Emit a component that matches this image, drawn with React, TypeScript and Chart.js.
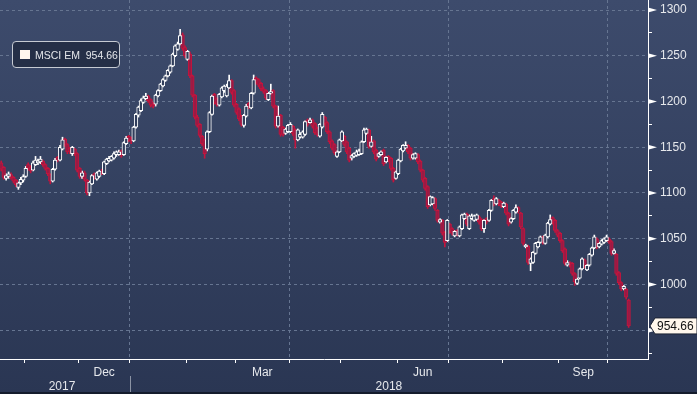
import React, { useEffect, useRef } from "react";
import { Chart, registerables } from "chart.js";

Chart.register(...registerables);

const seriesName = "MSCI EM";
const lastValue = 954.66;

// one candle per trading day, 18 Oct 2017 .. 11 Oct 2018
const opens = [
  1133, 1128, 1116, 1118, 1120, 1117, 1114, 1106, 1111, 1114,
  1118, 1131, 1128, 1125, 1131, 1133, 1134, 1135, 1131, 1127,
  1120, 1113, 1126, 1139, 1136, 1148, 1159, 1153, 1149, 1143,
  1148, 1143, 1127, 1118, 1122, 1114, 1100, 1110, 1121, 1115,
  1118, 1124, 1121, 1132, 1135, 1136, 1138, 1142, 1142, 1146,
  1142, 1154, 1162, 1159, 1157, 1172, 1185, 1190, 1199, 1203,
  1206, 1202, 1197, 1197, 1206, 1212, 1217, 1223, 1228, 1232,
  1239, 1250, 1257, 1263, 1273, 1259, 1246, 1252, 1228, 1207,
  1183, 1175, 1162, 1158, 1148, 1167, 1186, 1208, 1203, 1196,
  1205, 1212, 1206, 1215, 1223, 1212, 1197, 1192, 1184, 1174,
  1184, 1198, 1193, 1209, 1226, 1224, 1220, 1214, 1212, 1202,
  1209, 1212, 1195, 1173, 1185, 1172, 1165, 1167, 1167, 1173,
  1169, 1158, 1161, 1161, 1164, 1180, 1177, 1180, 1176, 1171,
  1162, 1172, 1183, 1177, 1167, 1157, 1153, 1140, 1145, 1157,
  1162, 1156, 1149, 1138, 1140, 1141, 1142, 1143, 1156, 1165,
  1169, 1151, 1157, 1147, 1140, 1142, 1147, 1134, 1140, 1138,
  1127, 1116, 1121, 1135, 1146, 1149, 1152, 1149, 1138, 1138,
  1142, 1135, 1125, 1116, 1107, 1087, 1088, 1094, 1081, 1068,
  1070, 1057, 1048, 1066, 1061, 1053, 1059, 1053, 1061, 1072,
  1077, 1061, 1072, 1070, 1071, 1074, 1071, 1061, 1072, 1070,
  1081, 1094, 1088, 1092, 1090, 1085, 1088, 1078, 1068, 1072,
  1079, 1084, 1078, 1061, 1041, 1042, 1023, 1024, 1034, 1041,
  1046, 1052, 1045, 1052, 1066, 1073, 1070, 1059, 1056, 1048,
  1039, 1021, 1024, 1023, 1012, 1001, 1007, 1017, 1027, 1016,
  1021, 1032, 1040, 1050, 1041, 1044, 1046, 1048, 1050, 1047,
  1034, 1033, 1013, 1002, 995, 995, 983,
];

const highs = [
  1135, 1129, 1121, 1123, 1122, 1118, 1115, 1112, 1117, 1120,
  1129, 1133, 1130, 1135, 1140, 1137, 1140, 1136, 1132, 1128,
  1121, 1127, 1138, 1140, 1152, 1161, 1160, 1154, 1150, 1151,
  1149, 1144, 1128, 1124, 1124, 1115, 1113, 1120, 1122, 1123,
  1125, 1126, 1135, 1138, 1140, 1141, 1145, 1146, 1147, 1147,
  1156, 1162, 1163, 1161, 1173, 1187, 1195, 1203, 1206, 1209,
  1207, 1203, 1199, 1208, 1213, 1220, 1225, 1229, 1235, 1240,
  1253, 1262, 1265, 1279, 1275, 1261, 1256, 1254, 1229, 1208,
  1185, 1176, 1163, 1159, 1168, 1189, 1207, 1209, 1204, 1209,
  1216, 1218, 1219, 1229, 1224, 1213, 1198, 1193, 1185, 1186,
  1197, 1199, 1210, 1229, 1227, 1225, 1221, 1216, 1213, 1210,
  1219, 1213, 1196, 1195, 1186, 1173, 1171, 1175, 1177, 1174,
  1170, 1170, 1166, 1168, 1179, 1181, 1182, 1181, 1177, 1172,
  1176, 1188, 1184, 1178, 1168, 1158, 1154, 1146, 1159, 1168,
  1163, 1157, 1150, 1142, 1144, 1147, 1148, 1157, 1171, 1171,
  1170, 1162, 1158, 1148, 1144, 1146, 1148, 1140, 1141, 1139,
  1128, 1124, 1137, 1149, 1153, 1156, 1153, 1150, 1143, 1144,
  1143, 1136, 1126, 1117, 1108, 1097, 1096, 1095, 1082, 1072,
  1071, 1058, 1071, 1067, 1062, 1059, 1060, 1064, 1077, 1078,
  1078, 1076, 1077, 1076, 1077, 1075, 1072, 1071, 1073, 1082,
  1093, 1097, 1095, 1093, 1091, 1090, 1089, 1079, 1073, 1082,
  1087, 1085, 1079, 1062, 1044, 1043, 1029, 1036, 1046, 1047,
  1053, 1053, 1055, 1068, 1076, 1074, 1071, 1060, 1057, 1049,
  1040, 1026, 1025, 1024, 1013, 1007, 1018, 1029, 1028, 1022,
  1034, 1041, 1054, 1051, 1046, 1049, 1051, 1054, 1051, 1048,
  1039, 1034, 1014, 1003, 999, 996, 984,
];

const lows = [
  1124, 1115, 1114, 1116, 1115, 1111, 1107, 1104, 1109, 1112,
  1117, 1125, 1122, 1124, 1130, 1131, 1132, 1129, 1125, 1119,
  1110, 1112, 1125, 1134, 1135, 1147, 1151, 1143, 1143, 1141,
  1141, 1123, 1116, 1116, 1113, 1098, 1097, 1109, 1115, 1114,
  1117, 1120, 1120, 1131, 1134, 1135, 1137, 1140, 1141, 1139,
  1141, 1153, 1156, 1154, 1156, 1171, 1183, 1189, 1198, 1202,
  1199, 1194, 1193, 1195, 1205, 1211, 1216, 1222, 1227, 1231,
  1238, 1249, 1256, 1262, 1256, 1248, 1245, 1226, 1205, 1181,
  1172, 1161, 1152, 1138, 1146, 1166, 1185, 1197, 1195, 1195,
  1204, 1210, 1205, 1214, 1208, 1194, 1186, 1179, 1173, 1172,
  1183, 1192, 1192, 1208, 1219, 1216, 1212, 1209, 1202, 1201,
  1208, 1193, 1171, 1172, 1162, 1162, 1164, 1166, 1166, 1163,
  1149, 1157, 1160, 1160, 1163, 1173, 1176, 1171, 1164, 1162,
  1161, 1171, 1174, 1165, 1154, 1147, 1142, 1139, 1144, 1156,
  1151, 1143, 1134, 1136, 1139, 1140, 1141, 1142, 1155, 1164,
  1149, 1150, 1143, 1135, 1139, 1141, 1130, 1133, 1134, 1125,
  1112, 1115, 1120, 1134, 1145, 1148, 1143, 1136, 1137, 1137,
  1132, 1123, 1112, 1103, 1083, 1086, 1087, 1081, 1068, 1067,
  1054, 1041, 1047, 1056, 1054, 1052, 1053, 1052, 1060, 1071,
  1064, 1060, 1071, 1069, 1070, 1066, 1059, 1057, 1066, 1069,
  1080, 1086, 1087, 1086, 1084, 1084, 1076, 1064, 1067, 1071,
  1078, 1078, 1061, 1043, 1040, 1022, 1015, 1023, 1033, 1040,
  1045, 1044, 1044, 1051, 1065, 1066, 1057, 1052, 1046, 1035,
  1021, 1020, 1019, 1010, 999, 1000, 1006, 1016, 1018, 1015,
  1020, 1031, 1039, 1039, 1040, 1043, 1045, 1047, 1045, 1032,
  1033, 1010, 1000, 993, 994, 984, 953,
];

const closes = [
  1126, 1117, 1119, 1121, 1117, 1113, 1109, 1111, 1115, 1118,
  1127, 1127, 1124, 1133, 1136, 1135, 1137, 1131, 1127, 1121,
  1113, 1126, 1136, 1136, 1150, 1158, 1153, 1145, 1145, 1150,
  1143, 1125, 1118, 1122, 1115, 1100, 1112, 1119, 1117, 1122,
  1124, 1122, 1134, 1137, 1138, 1140, 1143, 1145, 1145, 1141,
  1155, 1160, 1158, 1157, 1172, 1186, 1194, 1201, 1204, 1206,
  1201, 1196, 1195, 1207, 1212, 1219, 1224, 1228, 1234, 1239,
  1252, 1261, 1263, 1272, 1258, 1250, 1255, 1228, 1207, 1183,
  1174, 1163, 1154, 1143, 1167, 1188, 1206, 1199, 1197, 1208,
  1215, 1217, 1217, 1223, 1210, 1196, 1188, 1181, 1175, 1185,
  1195, 1194, 1209, 1224, 1221, 1218, 1214, 1211, 1204, 1209,
  1211, 1195, 1173, 1184, 1164, 1164, 1170, 1174, 1175, 1165,
  1158, 1169, 1164, 1167, 1178, 1175, 1180, 1173, 1166, 1164,
  1175, 1186, 1176, 1167, 1156, 1149, 1144, 1145, 1158, 1167,
  1153, 1145, 1136, 1141, 1143, 1145, 1146, 1156, 1169, 1170,
  1151, 1156, 1145, 1137, 1143, 1145, 1132, 1139, 1136, 1127,
  1114, 1123, 1136, 1148, 1152, 1152, 1145, 1138, 1142, 1143,
  1134, 1125, 1114, 1105, 1085, 1096, 1095, 1083, 1070, 1071,
  1056, 1046, 1070, 1058, 1056, 1058, 1055, 1063, 1076, 1077,
  1066, 1075, 1075, 1075, 1076, 1068, 1061, 1070, 1068, 1081,
  1092, 1088, 1094, 1088, 1086, 1089, 1078, 1066, 1072, 1081,
  1084, 1080, 1063, 1045, 1043, 1024, 1028, 1035, 1045, 1046,
  1052, 1046, 1054, 1067, 1071, 1068, 1059, 1054, 1048, 1037,
  1023, 1024, 1021, 1012, 1003, 1006, 1017, 1028, 1020, 1021,
  1033, 1040, 1052, 1041, 1045, 1048, 1050, 1052, 1047, 1034,
  1037, 1012, 1002, 995, 998, 986, 954.66,
];

// x axis in trading-day index units
const xMax = 264.4;
const monthBoundaries = [10, 32, 53, 76, 96, 118, 139, 162, 183, 205, 228, 248];
const quarterBoundaries = [53, 118, 183, 248];
const monthLabelPos = [42.5, 107, 172.5, 238];
const monthLabels = ["Dec", "Mar", "Jun", "Sep"];
const yearBoundary = 53;
const yearLabelPos = [25.3, 158.7];
const yearLabels = ["2017", "2018"];

// y axis
const yMin = 918.5;
const yMax = 1311;
const yMajor = [950, 1000, 1050, 1100, 1150, 1200, 1250, 1300];
const yMinor = [925, 975, 1025, 1075, 1125, 1175, 1225, 1275];

const FONT = "'Liberation Sans', Arial, sans-serif";
const GRID = "#667591";
const TEXT = "#e6e8ec";
const RED_FILL = "#9a1b45";
const RED_EDGE = "#c4143d";
const UP_FILL = "#303d5b";

const App: React.FC = () => {
  const canvasRef = useRef<HTMLCanvasElement | null>(null);

  useEffect(() => {
    const canvas = canvasRef.current;
    if (!canvas) return;

    const upBodies: any[] = [];
    const downBodies: any[] = [];
    const upWicks: any[] = [];
    const downWicks: any[] = [];
    closes.forEach((c, i) => {
      const o = opens[i];
      const x = i + 0.5;
      if (c >= o) {
        upBodies.push({ x, y: [o, c] });
        upWicks.push({ x, y: [lows[i], highs[i]] });
      } else {
        downBodies.push({ x, y: [o, c] });
        downWicks.push({ x, y: [lows[i], highs[i]] });
      }
    });

    const overlay = {
      id: "overlay",
      beforeDraw(chart: any) {
        const { ctx, width, height } = chart;
        ctx.save();
        const g = ctx.createLinearGradient(0, 0, 0, height);
        g.addColorStop(0, "#3d4b6c");
        g.addColorStop(1, "#2a3653");
        ctx.fillStyle = g;
        ctx.fillRect(0, 0, width, height);
        ctx.restore();
      },
      afterDraw(chart: any) {
        const { ctx, chartArea, scales, width, height } = chart;
        const xs = scales.x;
        const ys = scales.y;
        ctx.save();
        // tick triangles on the value axis
        ctx.fillStyle = "#ffffff";
        const ax = chartArea.right;
        yMajor.forEach((v) => {
          const py = ys.getPixelForValue(v);
          ctx.beginPath();
          ctx.moveTo(ax, py - 2.5);
          ctx.lineTo(ax + 9, py);
          ctx.lineTo(ax, py + 2.5);
          ctx.closePath();
          ctx.fill();
        });
        // year separator and year labels
        const sx = Math.round(xs.getPixelForValue(yearBoundary)) + 0.5;
        ctx.strokeStyle = "#8b93a4";
        ctx.lineWidth = 1;
        ctx.beginPath();
        ctx.moveTo(sx, 376);
        ctx.lineTo(sx, height);
        ctx.stroke();
        ctx.fillStyle = TEXT;
        ctx.font = `12px ${FONT}`;
        ctx.textAlign = "center";
        ctx.textBaseline = "alphabetic";
        yearLabels.forEach((t, k) => {
          ctx.fillText(t, xs.getPixelForValue(yearLabelPos[k]), 390);
        });
        // last price tag
        const py = ys.getPixelForValue(lastValue);
        ctx.beginPath();
        ctx.moveTo(ax + 2, py);
        ctx.lineTo(ax + 7, py - 8);
        ctx.lineTo(width, py - 8);
        ctx.lineTo(width, py + 8);
        ctx.lineTo(ax + 7, py + 8);
        ctx.closePath();
        ctx.fillStyle = "#fff7ec";
        ctx.fill();
        ctx.strokeStyle = "#1c2333";
        ctx.stroke();
        ctx.fillStyle = "#111111";
        ctx.textAlign = "left";
        ctx.textBaseline = "middle";
        ctx.fillText(lastValue.toFixed(2), ax + 9, py + 0.5);
        // dark bottom edge
        ctx.fillStyle = "#141c2c";
        ctx.fillRect(0, height - 2, width, 2);
        ctx.restore();
      },
    };

    const common = { grouped: false, borderSkipped: false as any, minBarLength: 1 };

    const chart = new Chart(canvas, {
      type: "bar",
      data: {
        datasets: [
          {
            ...common,
            label: "up",
            data: upBodies,
            backgroundColor: UP_FILL,
            borderColor: "#ffffff",
            borderWidth: 1,
            barThickness: 3.6,
          },
          {
            ...common,
            label: "down",
            data: downBodies,
            backgroundColor: RED_FILL,
            borderColor: RED_EDGE,
            borderWidth: 1,
            barThickness: 3.6,
          },
          {
            ...common,
            label: "upWick",
            data: upWicks,
            backgroundColor: "#ffffff",
            borderWidth: 0,
            barThickness: 1,
          },
          {
            ...common,
            label: "downWick",
            data: downWicks,
            backgroundColor: RED_EDGE,
            borderWidth: 0,
            barThickness: 1,
          },
        ] as any,
      },
      options: {
        animation: false,
        responsive: false,
        devicePixelRatio: 1,
        layout: { padding: 0 },
        plugins: {
          legend: { display: false },
          tooltip: { enabled: false },
        },
        scales: {
          x: {
            type: "linear",
            min: 0,
            max: xMax,
            offset: false,
            bounds: "data",
            afterBuildTicks: (s: any) => {
              s.ticks = [...monthBoundaries, ...monthLabelPos]
                .sort((a, b) => a - b)
                .map((v) => ({ value: v }));
            },
            afterFit: (s: any) => {
              s.height = 35;
              s.paddingLeft = 0;
              s.paddingRight = 0;
              s.paddingTop = 0;
              s.paddingBottom = 0;
            },
            ticks: {
              autoSkip: false,
              maxRotation: 0,
              minRotation: 0,
              color: TEXT,
              padding: 2,
              font: { family: FONT, size: 12 },
              callback: (v: any) => {
                const k = monthLabelPos.indexOf(Number(v));
                return k >= 0 ? monthLabels[k] : "";
              },
            },
            grid: {
              offset: false,
              drawOnChartArea: true,
              drawTicks: true,
              tickLength: 4,
              lineWidth: 1,
              color: (c: any) =>
                c.tick && quarterBoundaries.includes(c.tick.value) ? GRID : "rgba(0,0,0,0)",
              tickColor: (c: any) =>
                c.tick && monthBoundaries.includes(c.tick.value) ? "#ffffff" : "rgba(0,0,0,0)",
            },
            border: { display: true, color: "#ffffff", width: 1, dash: [3, 3] },
          } as any,
          y: {
            type: "linear",
            position: "right",
            min: yMin,
            max: yMax,
            bounds: "data",
            afterBuildTicks: (s: any) => {
              s.ticks = [...yMinor, ...yMajor]
                .sort((a, b) => a - b)
                .map((v) => ({ value: v }));
            },
            afterFit: (s: any) => {
              s.width = 49;
              s.paddingTop = 0;
              s.paddingBottom = 0;
              s.paddingLeft = 0;
              s.paddingRight = 0;
            },
            ticks: {
              autoSkip: false,
              color: TEXT,
              padding: 8,
              font: { family: FONT, size: 12 },
              callback: (v: any) => {
                const n = Number(v);
                return yMajor.includes(n) ? String(n) : "";
              },
            },
            grid: {
              offset: false,
              drawOnChartArea: true,
              drawTicks: true,
              tickLength: 4,
              lineWidth: 1,
              color: (c: any) =>
                c.tick && yMajor.includes(c.tick.value) ? GRID : "rgba(0,0,0,0)",
              tickColor: (c: any) =>
                c.tick && yMinor.includes(c.tick.value) ? "#ffffff" : "rgba(0,0,0,0)",
            },
            border: { display: true, color: "#ffffff", width: 1, dash: [3, 3] },
          } as any,
        },
      },
      plugins: [overlay],
    });

    return () => {
      chart.destroy();
    };
  }, []);

  return (
    <div style={{ position: "fixed", left: 0, top: 0, width: 697, height: 394, overflow: "hidden" }}>
      <canvas ref={canvasRef} width={697} height={394} style={{ display: "block" }} />
      <div
        style={{
          position: "absolute",
          left: 12,
          top: 41,
          width: 108,
          height: 27,
          boxSizing: "border-box",
          border: "1px solid #c6cad2",
          borderRadius: 4,
          background: "#252f47",
          display: "flex",
          alignItems: "center",
          fontFamily: FONT,
        }}
      >
        <span
          style={{
            display: "block",
            marginLeft: 7,
            width: 10,
            height: 9,
            background: "#fff6ee",
          }}
        />
        <span
          style={{
            marginLeft: 5,
            fontSize: 10.5,
            color: "#e4e6ea",
            whiteSpace: "pre",
            lineHeight: "12px",
          }}
        >
          {`${seriesName}  ${lastValue.toFixed(2)}`}
        </span>
      </div>
    </div>
  );
};

export default App;
